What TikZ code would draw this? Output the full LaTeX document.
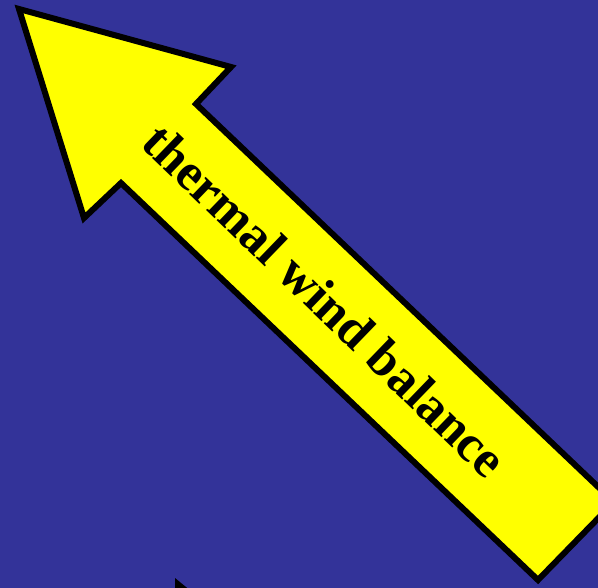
\documentclass[tikz,border=0pt]{standalone}
\usepackage{fontspec}
\setmainfont{Liberation Serif}
\definecolor{bgblue}{RGB}{51,51,153}
\definecolor{arrowyellow}{RGB}{255,255,0}

\begin{document}
\begin{tikzpicture}[x=1pt,y=-1pt]
	% background
	\fill[bgblue] (0,0) rectangle (598,588);
	\clip (0,0) rectangle (598,588);

	% big arrow
	\coordinate (tip) at (19,9);
	\coordinate (HR) at (231,67);
	\coordinate (NR) at (196,104);
	\coordinate (ER) at (614,502);
	\coordinate (EL) at (538,580);
	\coordinate (NL) at (121,183);
	\coordinate (HL) at (84,218);
	\draw[line width=6pt,fill=arrowyellow] (tip)--(HR)--(NR)--(ER)--(EL)--(NL)--(HL)--cycle;
	\node[rotate=-44,font=\fontsize{52}{60}\selectfont\bfseries] (label) at (325,300) {thermal wind balance};

	% tip of a second arrow
	\coordinate (T) at (175,578);
	\fill (T)--(175,610)--(214,610)--cycle;
\end{tikzpicture}
\end{document}
